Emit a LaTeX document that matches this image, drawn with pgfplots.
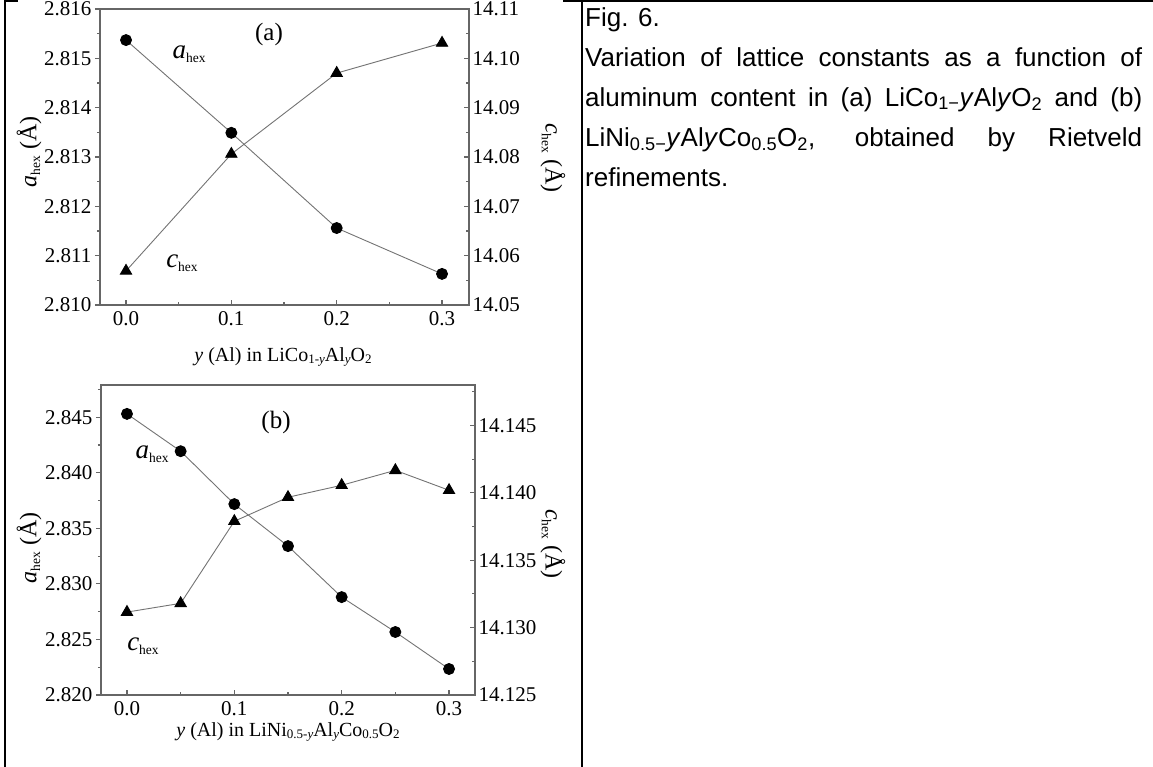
\documentclass[border=0pt]{standalone}
\usepackage{pgfplots}
\pgfplotsset{compat=1.18}
\usepackage{fontspec}
\setmainfont{Liberation Serif}
\newfontfamily\sansf{Liberation Sans}

\pgfplotsset{
  panel/.style={
    scale only axis,
    axis line style={draw=black!60, line width=1.3pt},
    every tick/.style={draw=black!60, line width=1.1pt},
    major tick length=5pt, minor tick length=3pt,
    tick label style={font=\fontsize{21}{21}\selectfont},
    /pgf/number format/assume math mode=true,
    clip=false,
  },
  lin/.style={draw=black!55, line width=0.9pt},
  circ/.style={lin, mark=*, mark size=5.5pt, mark options={draw=black, fill=black, solid}},
  tri/.style={lin, mark=triangle*, mark size=6.5pt, mark options={draw=black, fill=black, solid}},
}
\newcommand{\sub}[1]{\raisebox{-0.35ex}{\fontsize{13.5}{13.5}\selectfont #1}}

\begin{document}
\begin{tikzpicture}[x=1pt,y=1pt]
\useasboundingbox (0,0) rectangle (1153,767);
% table borders
\draw[line width=2pt] (5,0) -- (5,767);
\draw[line width=1.6pt] (582,0) -- (582,767);
\draw[line width=1.6pt] (4,766) -- (18,766);
\draw[line width=1.6pt] (563,766) -- (1153,766);

% ---------------- Panel (a) ----------------
\begin{axis}[panel, at={(100pt,462pt)}, anchor=south west, width=369pt, height=296pt,
  xmin=-0.0247, xmax=0.3256, ymin=2.810, ymax=2.816,
  xtick={0,0.1,0.2,0.3}, minor xtick={0.05,0.15,0.25},
  ytick={2.810,2.811,2.812,2.813,2.814,2.815,2.816},
  minor ytick={2.8105,2.8115,2.8125,2.8135,2.8145,2.8155},
  xtick pos=left, ytick pos=left,
  xtick align=inside, ytick align=outside,
  xticklabel style={/pgf/number format/fixed, /pgf/number format/fixed zerofill, /pgf/number format/precision=1, yshift=-3pt},
  yticklabel style={/pgf/number format/fixed, /pgf/number format/fixed zerofill, /pgf/number format/precision=3},
]
\addplot[circ] coordinates {(0,2.81537) (0.1,2.81349) (0.2,2.81156) (0.3,2.81063)};
\end{axis}
\begin{axis}[panel, at={(100pt,462pt)}, anchor=south west, width=369pt, height=296pt,
  xmin=-0.0247, xmax=0.3256, ymin=14.05, ymax=14.11,
  axis x line=none, axis y line*=right,
  ytick={14.05,14.06,14.07,14.08,14.09,14.10,14.11},
  minor ytick={14.055,14.065,14.075,14.085,14.095,14.105},
  ytick align=inside,
  yticklabel style={/pgf/number format/fixed, /pgf/number format/fixed zerofill, /pgf/number format/precision=2},
]
\addplot[tri] coordinates {(0,14.0569) (0.1,14.0806) (0.2,14.0970) (0.3,14.1031)};
\end{axis}

\node[font=\fontsize{25}{25}\selectfont] at (269,732) {(a)};
\node[font=\fontsize{27}{27}\selectfont] at (189,713) {\textit{a}\sub{hex}};
\node[font=\fontsize{27}{27}\selectfont] at (182,504) {\textit{c}\sub{hex}};
\node[rotate=90, font=\fontsize{24}{24}\selectfont] at (29,615) {\textit{a}\sub{hex} (Å)};
\node[rotate=-90, font=\fontsize{24}{24}\selectfont] at (553,609) {\textit{c}\sub{hex} (Å)};
\node[font=\fontsize{20}{20}\selectfont] at (283,410) {\textit{y} (Al) in LiCo{\fontsize{13}{13}\selectfont\raisebox{-0.4ex}{1-\textit{y}}}Al{\fontsize{13}{13}\selectfont\raisebox{-0.4ex}{\textit{y}}}O{\fontsize{13}{13}\selectfont\raisebox{-0.4ex}{2}}};

% ---------------- Panel (b) ----------------
\begin{axis}[panel, at={(101pt,72pt)}, anchor=south west, width=374pt, height=310pt,
  xmin=-0.0242, xmax=0.3242, ymin=2.820, ymax=2.8479,
  xtick={0,0.1,0.2,0.3}, minor xtick={0.05,0.15,0.25},
  ytick={2.820,2.825,2.830,2.835,2.840,2.845},
  minor ytick={2.8225,2.8275,2.8325,2.8375,2.8425,2.8475},
  xtick pos=left, ytick pos=left,
  xtick align=inside, ytick align=outside,
  xticklabel style={/pgf/number format/fixed, /pgf/number format/fixed zerofill, /pgf/number format/precision=1, yshift=-3pt},
  yticklabel style={/pgf/number format/fixed, /pgf/number format/fixed zerofill, /pgf/number format/precision=3},
]
\addplot[circ] coordinates {(0,2.8453) (0.05,2.84194) (0.1,2.83718) (0.15,2.8334) (0.2,2.82881) (0.25,2.82567) (0.3,2.82234)};
\end{axis}
\begin{axis}[panel, at={(101pt,72pt)}, anchor=south west, width=374pt, height=310pt,
  xmin=-0.0242, xmax=0.3242, ymin=14.125, ymax=14.148,
  axis x line=none, axis y line*=right,
  ytick={14.125,14.130,14.135,14.140,14.145},
  minor ytick={14.1275,14.1325,14.1375,14.1425,14.1475},
  ytick align=inside,
  yticklabel style={/pgf/number format/fixed, /pgf/number format/fixed zerofill, /pgf/number format/precision=3},
]
\addplot[tri] coordinates {(0,14.13115) (0.05,14.1318) (0.1,14.13789) (0.15,14.13967) (0.2,14.14056) (0.25,14.14167) (0.3,14.14019)};
\end{axis}

\node[font=\fontsize{25}{25}\selectfont] at (276,345) {(b)};
\node[font=\fontsize{27}{27}\selectfont] at (152,313) {\textit{a}\sub{hex}};
\node[font=\fontsize{27}{27}\selectfont] at (143,121) {\textit{c}\sub{hex}};
\node[rotate=90, font=\fontsize{24}{24}\selectfont] at (29,219) {\textit{a}\sub{hex} (Å)};
\node[rotate=-90, font=\fontsize{24}{24}\selectfont] at (553,223) {\textit{c}\sub{hex} (Å)};
\node[font=\fontsize{20}{20}\selectfont] at (288,35) {\textit{y} (Al) in LiNi{\fontsize{13}{13}\selectfont\raisebox{-0.4ex}{0.5-\textit{y}}}Al{\fontsize{13}{13}\selectfont\raisebox{-0.4ex}{\textit{y}}}Co{\fontsize{13}{13}\selectfont\raisebox{-0.4ex}{0.5}}O{\fontsize{13}{13}\selectfont\raisebox{-0.4ex}{2}}};

% ---------------- Caption text ----------------
\node[anchor=north west, inner sep=0pt, text width=557pt, align=justify,
      font=\sansf\fontsize{26}{40}\selectfont] at (585,760)
  {\hyphenpenalty=10000 Fig. 6.\\
   Variation of lattice constants as a function of\linebreak aluminum content in (a) LiCo\textsubscript{1−}\textit{y}Al\textit{y}O\textsubscript{2} and (b)\linebreak LiNi\textsubscript{0.5−}\textit{y}Al\textit{y}Co\textsubscript{0.5}O\textsubscript{2}, obtained by Rietveld\linebreak refinements.};
\end{tikzpicture}
\end{document}
